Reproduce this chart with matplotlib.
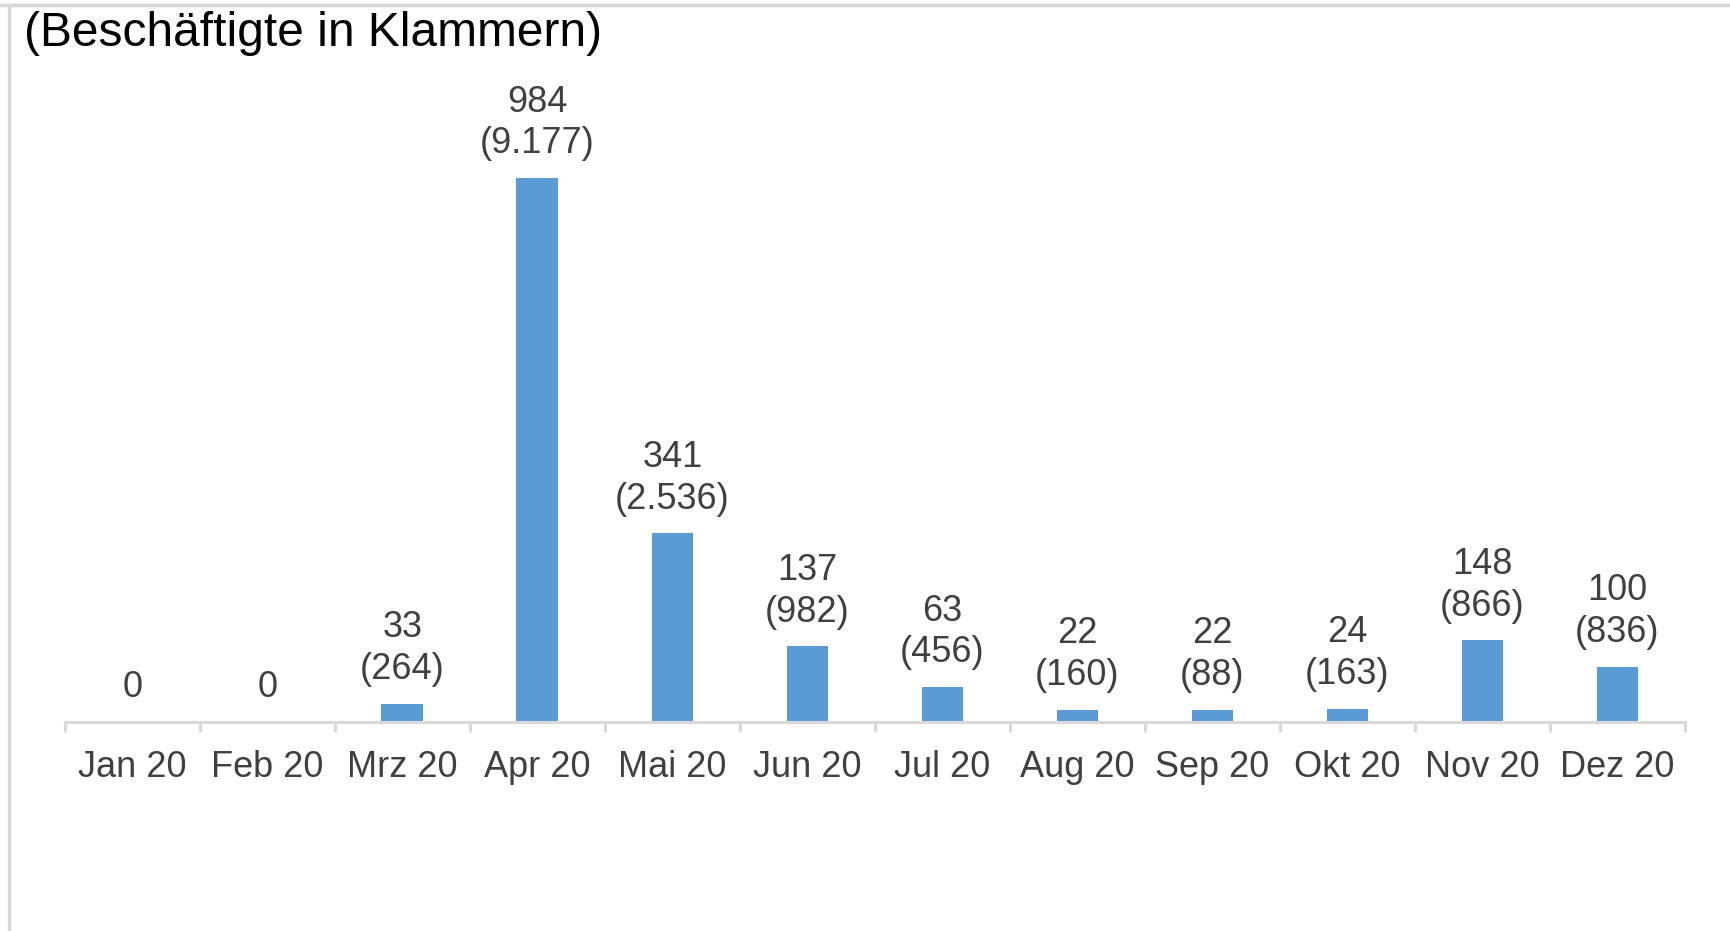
import matplotlib.pyplot as plt
from matplotlib.lines import Line2D
import numpy as np

# Daten
monate = ["Jan 20", "Feb 20", "Mrz 20", "Apr 20", "Mai 20", "Jun 20",
          "Jul 20", "Aug 20", "Sep 20", "Okt 20", "Nov 20", "Dez 20"]
betriebe = [0, 0, 33, 984, 341, 137, 63, 22, 22, 24, 148, 100]
beschaeftigte = ["", "", "264", "9.177", "2.536", "982", "456", "160", "88", "163", "866", "836"]

plt.rcParams['font.family'] = ['Liberation Sans', 'DejaVu Sans']

fig = plt.figure(figsize=(17.31, 9.31), dpi=100)
ax = fig.add_axes([0.0375, 0.2245, 0.9359, 0.7126])

x = np.arange(len(monate))
ax.bar(x, betriebe, width=0.31, color="#5B9BD5")

# Beschriftungen ueber den Balken
for xi, n, b in zip(x, betriebe, beschaeftigte):
    txt = f"{n}\n({b})" if b else f"{n}"
    ax.annotate(txt, (xi, n), xytext=(0, 12), textcoords="offset points",
                ha="center", va="bottom", fontsize=26, color="#404040",
                linespacing=1.25)

ax.set_xlim(-0.5, len(monate) - 0.5)
ax.set_ylim(0, 1200)
ax.set_xticks(x)
ax.set_xticklabels(monate, fontsize=26, color="#404040")
ax.set_xticks(np.arange(-0.5, len(monate), 1), minor=True)
ax.tick_params(axis="x", which="major", length=0, pad=20)
ax.tick_params(axis="x", which="minor", length=7, width=2.2, color="#D9D9D9")
ax.set_yticks([])
for s in ["top", "right", "left"]:
    ax.spines[s].set_visible(False)
ax.spines["bottom"].set_color("#D9D9D9")
ax.spines["bottom"].set_linewidth(2.2)

# Rahmen oben und links
fig.add_artist(Line2D([0, 1], [0.9941, 0.9941], color="#D9D9D9", lw=2.5, transform=fig.transFigure))
fig.add_artist(Line2D([0.0052, 0.0052], [0, 0.9941], color="#D9D9D9", lw=2.5, transform=fig.transFigure))

fig.text(0.0139, 0.964, "(Beschäftigte in Klammern)", fontsize=34.5, color="black",
         ha="left", va="center")

fig.savefig("out.png", dpi=100)
